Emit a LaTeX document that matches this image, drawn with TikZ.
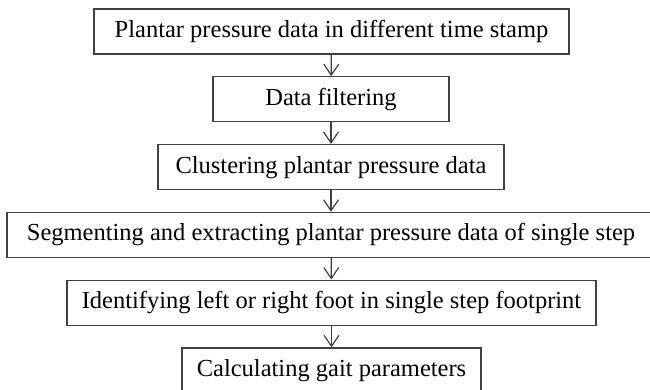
\documentclass[tikz,border=0pt]{standalone}
\usepackage{fontspec}
\setmainfont{Liberation Serif}
\usetikzlibrary{arrows.meta}

\tikzset{
    stepbox/.style={draw=black!75, line width=1.3pt, fill=white,
        inner xsep=10pt, inner ysep=11.5pt,
        text height=17pt, text depth=5pt,
        font=\fontsize{24.5}{29}\selectfont},
    flow/.style={draw=black!75, line width=1.2pt,
        -{Straight Barb[length=11pt, width=15pt, line width=1.2pt]}}
}

\begin{document}
\begin{tikzpicture}[x=1pt, y=-1pt]
    \useasboundingbox (0,0) rectangle (650,390);

    \node[stepbox, minimum width=475pt] (data)    at (331.5, 31.5)  {Plantar pressure data in different time stamp};
    \node[stepbox, minimum width=236pt] (filter)  at (331.0, 99.3)  {Data filtering};
    \node[stepbox, minimum width=346pt] (cluster) at (331.0, 167.1) {Clustering plantar pressure data};
    \node[stepbox, minimum width=648pt] (segment) at (331.0, 234.9) {Segmenting and extracting plantar pressure data of single step};
    \node[stepbox, minimum width=529pt] (foot)    at (331.5, 302.7) {Identifying left or right foot in single step footprint};
    \node[stepbox, minimum width=299pt] (gait)    at (331.5, 370.5) {Calculating gait parameters};

    \draw[flow] (data) -- (filter);
    \draw[flow] (filter) -- (cluster);
    \draw[flow] (cluster) -- (segment);
    \draw[flow] (segment) -- (foot);
    \draw[flow] (foot) -- (gait);
\end{tikzpicture}
\end{document}
